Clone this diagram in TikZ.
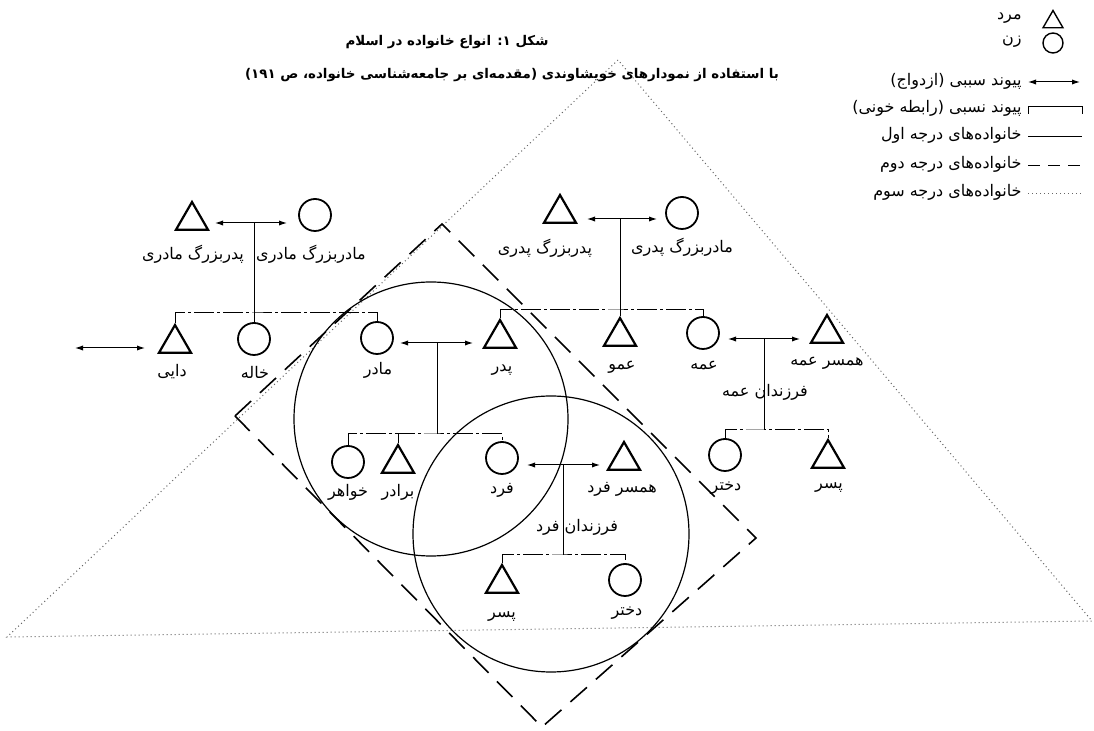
\documentclass[tikz,border=0pt]{standalone}
\usepackage{fontspec}
\newfontfamily\fa[Script=Arabic]{DejaVu Sans}
\TeXXeTstate=1
\usetikzlibrary{shapes.geometric,arrows.meta}
\newcommand{\rl}[1]{\beginR #1\endR}
\begin{document}
\begin{tikzpicture}[x=0.5pt,y=-0.5pt,
  man/.style={regular polygon, regular polygon sides=3, draw, line width=1.1pt, minimum size=18.5pt, inner sep=0pt},
  woman/.style={circle, draw, line width=0.9pt, minimum size=16pt, inner sep=0pt},
  lgman/.style={regular polygon, regular polygon sides=3, draw, line width=0.7pt, minimum size=11.5pt, inner sep=0pt},
  lgwoman/.style={circle, draw, line width=0.7pt, minimum size=10pt, inner sep=0pt},
  lbl/.style={font=\fa\fontsize{8}{9}\selectfont, inner sep=0pt},
  ttl/.style={font=\fa\bfseries\fontsize{6.7}{8}\selectfont, inner sep=0pt},
  marr/.style={{Latex[length=4pt,width=2.6pt]}-{Latex[length=4pt,width=2.6pt]}, line width=0.5pt},
  kin/.style={line width=0.5pt},
  sib/.style={line width=0.5pt, dash pattern=on 10pt off 1.5pt on 1.5pt off 1.5pt},
  first/.style={line width=0.5pt},
  second/.style={line width=0.8pt, dash pattern=on 11pt off 6pt},
  third/.style={line width=0.5pt, black!60, dash pattern=on 0.5pt off 1.5pt},
  bigc/.style={line width=0.6pt}]
\fill[white] (0,0) rectangle (1094,731);
\useasboundingbox (0,0) rectangle (1094,731);

% third degree triangle and second degree rectangle
\draw[third] (618,60) -- (7,637) -- (1092,621) -- cycle;
\draw[second] (235,416) -- (442,224) -- (756,538) -- (542,727) -- cycle;
% first degree circles
\draw[bigc] (431,419) circle[radius=68.5pt];
\draw[bigc] (551,534) circle[radius=69pt];

% titles
\node[ttl] (title) at (447,42) {\rl{شکل ۱\kern0pt: انواع خانواده در اسلام}};
\node[ttl] (subtitle) at (512,75) {\rl{با استفاده از نمودارهای خویشاوندی (مقدمه‌ای بر جامعه‌شناسی خانواده، ص ۱۹۱)}};

% legend
\node[lgman] (lgm) at (1053,22) {};
\node[lgwoman] (lgw) at (1053,43) {};
\node[lbl, anchor=east] (lgmt) at (1022,18) {\rl{مرد}};
\node[lbl, anchor=east] (lgwt) at (1022,42) {\rl{زن}};
\coordinate (lgaL) at (1028,82); \coordinate (lgaR) at (1080,82);
\draw[marr] (lgaL) -- (lgaR);
\node[lbl, anchor=east] (lgat) at (1022,81) {\rl{پیوند سببی (ازدواج)}};
\coordinate (lgbL) at (1028,114); \coordinate (lgbR) at (1082,114);
\draw[kin] (lgbL) -- ++(0,-7) -| (lgbR);
\node[lbl, anchor=east] (lgbt) at (1022,108) {\rl{پیوند نسبی (رابطه خونی)}};
\coordinate (lg1L) at (1028,137); \coordinate (lg1R) at (1082,137);
\draw[first] (lg1L) -- (lg1R);
\node[lbl, anchor=east] (lg1t) at (1022,135) {\rl{خانواده‌های درجه اول}};
\coordinate (lg2L) at (1028,166); \coordinate (lg2R) at (1082,166);
\draw[second, line width=0.5pt, dash pattern=on 6pt off 4pt] (lg2L) -- (lg2R);
\node[lbl, anchor=east] (lg2t) at (1022,164) {\rl{خانواده‌های درجه دوم}};
\coordinate (lg3L) at (1028,194); \coordinate (lg3R) at (1082,194);
\draw[third] (lg3L) -- (lg3R);
\node[lbl, anchor=east] (lg3t) at (1022,192) {\rl{خانواده‌های درجه سوم}};

% maternal grandparents
\node[man] (pbm) at (192,220.5) {};
\node[woman] (mbm) at (315,215) {};
\node[lbl] (pbmt) at (193,254) {\rl{پدربزرگ مادری}};
\node[lbl] (mbmt) at (311,254) {\rl{مادربزرگ مادری}};
\coordinate (mgL) at (215,223); \coordinate (mgR) at (287,223); \coordinate (mgC) at (254,223);
\draw[marr] (mgL) -- (mgR);

% paternal grandparents
\node[man] (pbp) at (560,213.5) {};
\node[woman] (mbp) at (682,213) {};
\node[lbl] (pbpt) at (545,248) {\rl{پدربزرگ پدری}};
\node[lbl] (mbpt) at (682,247) {\rl{مادربزرگ پدری}};
\coordinate (pgL) at (587,219); \coordinate (pgR) at (657,219); \coordinate (pgC) at (620,219);
\draw[marr] (pgL) -- (pgR);

% maternal generation
\node[man] (dayi) at (175,343.5) {};
\node[woman] (khale) at (254,339) {};
\node[woman] (madar) at (377,338) {};
\node[lbl] (dayit) at (172,372) {\rl{دایی}};
\node[lbl] (khalet) at (255,372) {\rl{خاله}};
\node[lbl] (madart) at (378,370) {\rl{مادر}};
\coordinate (dyL) at (75,348); \coordinate (dyR) at (145,348);
\draw[marr] (dyL) -- (dyR);
\coordinate (sibM) at (254,313);
\draw[kin] (mgC) -- (khale.north);
\draw[sib] (dayi.corner 1) |- (sibM) -| (madar.north);

% paternal generation
\node[man] (pedar) at (500,338.5) {};
\node[man] (amu) at (620,336.5) {};
\node[woman] (amme) at (703,333) {};
\node[man] (hamame) at (827,333.5) {};
\node[lbl] (pedart) at (502,370) {\rl{پدر}};
\node[lbl] (amut) at (622,367) {\rl{عمو}};
\node[lbl] (ammet) at (704,366) {\rl{عمه}};
\node[lbl] (hamamet) at (827,363) {\rl{همسر عمه}};
\coordinate (sibP) at (620,310);
\draw[kin] (pgC) -- (amu.corner 1);
\draw[sib] (pedar.corner 1) |- (sibP) -| (amme.north);

% parents marriage
\coordinate (pL) at (400,343); \coordinate (pR) at (473,343); \coordinate (pC) at (437,343);
\draw[marr] (pL) -- (pR);
\coordinate (chP) at (437,434);
\draw[kin] (pC) -- (chP);

% amme marriage and children
\coordinate (aL) at (728,339); \coordinate (aR) at (800,339); \coordinate (aC) at (764,339);
\draw[marr] (aL) -- (aR);
\coordinate (aCh) at (764,430);
\draw[kin] (aC) -- (aCh);
\node[lbl] (farzamme) at (765,392) {\rl{فرزندان عمه}};
\node[woman] (dokhtarA) at (725,455) {};
\node[man] (pesarA) at (828,458.5) {};
\node[lbl] (dokhtarAt) at (726,488) {\rl{دختر}};
\node[lbl] (pesarAt) at (829,488) {\rl{پسر}};
\draw[sib] (dokhtarA.north) |- (aCh) -| (pesarA.corner 1);

% siblings generation
\node[woman] (khahar) at (348,462) {};
\node[man] (baradar) at (398,463.5) {};
\node[woman] (fard) at (502,458) {};
\node[man] (hamfard) at (624,460.5) {};
\node[lbl] (khahart) at (348,492) {\rl{خواهر}};
\node[lbl] (baradart) at (398,492) {\rl{برادر}};
\node[lbl] (fardt) at (502,490) {\rl{فرد}};
\node[lbl] (hamfardt) at (622,489) {\rl{همسر فرد}};
\draw[sib] (khahar.north) |- (chP) -| (fard.north);
\draw[kin] (baradar.corner 1) -- (baradar.corner 1 |- chP);

% fard marriage and children
\coordinate (fL) at (527,465); \coordinate (fR) at (600,465); \coordinate (fC) at (563,465);
\draw[marr] (fL) -- (fR);
\coordinate (fCh) at (563,555);
\draw[kin] (fC) -- (fCh);
\node[lbl] (farzfard) at (577,527) {\rl{فرزندان فرد}};
\node[man] (pesar) at (502,583.5) {};
\node[woman] (dokhtar) at (625,580) {};
\node[lbl] (pesart) at (502,617) {\rl{پسر}};
\node[lbl] (dokhtart) at (627,613) {\rl{دختر}};
\draw[sib] (pesar.corner 1) |- (fCh) -| (dokhtar.north);
\end{tikzpicture}
\end{document}
